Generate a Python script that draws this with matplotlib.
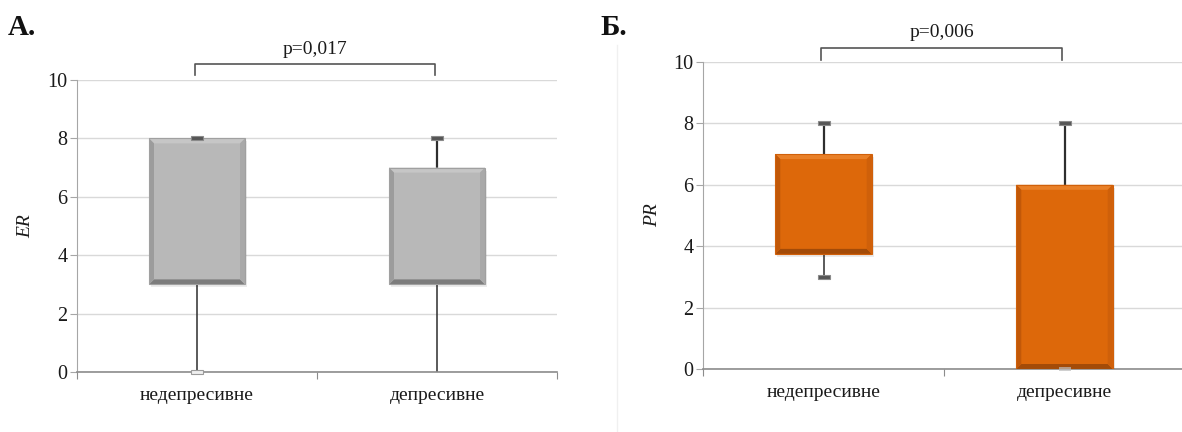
import matplotlib

matplotlib.use("Agg")
import matplotlib.pyplot as plt
from matplotlib.lines import Line2D
from matplotlib.patches import Polygon, Rectangle

# group labels and five-number summaries for each panel
categories = ["недепресивне", "депресивне"]

er_min = [0, 0]
er_q1 = [3, 3]
er_q3 = [8, 7]
er_max = [8, 8]

pr_min = [3, 0]
pr_q1 = [3.75, 0]
pr_q3 = [7, 6]
pr_max = [8, 8]

p_er = "p=0,017"
p_pr = "p=0,006"

FONT = ["Liberation Serif", "DejaVu Serif"]
GRAY = {"face": "#b8b8b8", "edge": "#a0a0a0", "top": "#c6c6c6",
        "left": "#9c9c9c", "right": "#a9a9a9", "bottom": "#7c7c7c"}
ORANGE = {"face": "#dd680a", "edge": "#d0600a", "top": "#e98028",
          "left": "#c25808", "right": "#cf600a", "bottom": "#a34b08"}

plt.rcParams["font.family"] = FONT


def px_to_data(ax):
    """Return data units per pixel along x and y."""
    bbox = ax.get_window_extent()
    x0, x1 = ax.get_xlim()
    y0, y1 = ax.get_ylim()
    return (x1 - x0) / bbox.width, (y1 - y0) / bbox.height


def bevel_box(ax, xc, lo, hi, width, colors, bevel_px=5):
    """Draw an Excel-style bevelled box between lo and hi."""
    ux, uy = px_to_data(ax)
    bx, by = bevel_px * ux, bevel_px * uy
    x0, x1 = xc - width / 2, xc + width / 2
    # soft drop shadow
    ax.add_patch(Rectangle((x0 + 2 * ux, lo - 3 * uy), width, hi - lo,
                           facecolor="#000000", alpha=0.08, lw=0, zorder=3))
    ax.add_patch(Rectangle((x0, lo), width, hi - lo, facecolor=colors["face"],
                           edgecolor="none", zorder=4))
    strips = [
        ([(x0, hi), (x1, hi), (x1 - bx, hi - by), (x0 + bx, hi - by)], colors["top"]),
        ([(x0, lo), (x1, lo), (x1 - bx, lo + by), (x0 + bx, lo + by)], colors["bottom"]),
        ([(x0, lo), (x0 + bx, lo + by), (x0 + bx, hi - by), (x0, hi)], colors["left"]),
        ([(x1, lo), (x1 - bx, lo + by), (x1 - bx, hi - by), (x1, hi)], colors["right"]),
    ]
    for pts, col in strips:
        ax.add_patch(Polygon(pts, closed=True, facecolor=col, edgecolor="none", zorder=5))
    ax.add_patch(Rectangle((x0, lo), width, hi - lo, facecolor="none",
                           edgecolor=colors["edge"], lw=0.8, zorder=6))


def cap(ax, xc, y, face="#555555", edge="#8a8a8a", alpha=1.0):
    ux, uy = px_to_data(ax)
    w, h = 12 * ux, 4 * uy
    ax.add_patch(Rectangle((xc - w / 2, y - h / 2), w, h, facecolor=face,
                           edgecolor=edge, lw=0.8, alpha=alpha, zorder=7, clip_on=False))


def style_axes(ax, ylabel):
    ax.set_xlim(0, 2)
    ax.set_ylim(0, 10)
    ax.set_yticks(range(0, 11, 2))
    ax.yaxis.grid(True, color="#d9d9d9", lw=1.0)
    ax.set_axisbelow(True)
    for side in ("top", "right"):
        ax.spines[side].set_visible(False)
    ax.spines["left"].set_color("#a6a6a6")
    ax.spines["bottom"].set_color("#8c8c8c")
    ax.spines["bottom"].set_linewidth(1.2)
    ax.set_xticks([0, 1, 2])
    ax.set_xticklabels([])
    ax.set_xticks([0.5, 1.5], minor=True)
    ax.set_xticklabels(categories, minor=True)
    ax.tick_params(axis="x", which="major", length=5, color="#8c8c8c")
    ax.tick_params(axis="x", which="minor", length=0, pad=11, labelsize=14,
                   labelcolor="#1a1a1a")
    ax.tick_params(axis="y", length=5, color="#a6a6a6", labelsize=14.5,
                   labelcolor="#1a1a1a", pad=2)
    ax.set_ylabel(ylabel, fontstyle="italic", fontsize=14, labelpad=9, color="#1a1a1a")


def draw_panel(ax, mins, q1s, q3s, maxs, colors, low_caps):
    width = 0.4
    for i, xc in enumerate([0.5, 1.5]):
        ax.plot([xc, xc], [mins[i], q1s[i]], color="#2e2e2e", lw=1.1, zorder=2)
        ax.plot([xc, xc], [q3s[i], maxs[i]], color="#2e2e2e", lw=1.6, zorder=2)
        bevel_box(ax, xc, q1s[i], q3s[i], width, colors)
        cap(ax, xc, maxs[i])
        if low_caps[i] is not None:
            cap(ax, xc, mins[i], **low_caps[i])


def bracket(ax, y_top, drop, label):
    ax.plot([0.49, 0.49, 1.49, 1.49], [y_top - drop, y_top, y_top, y_top - drop],
            color="#555555", lw=1.2, clip_on=False)
    ax.text(0.99, y_top + 0.22, label, ha="center", va="bottom", fontsize=14,
            color="#1a1a1a", clip_on=False)


fig = plt.figure(figsize=(11.82, 4.32), dpi=100)
ax_a = fig.add_axes([77 / 1182, 60 / 432, 480 / 1182, 292 / 432])
ax_b = fig.add_axes([703 / 1182, 63 / 432, 482 / 1182, 307 / 432])

style_axes(ax_a, "ER")
style_axes(ax_b, "PR")

draw_panel(ax_a, er_min, er_q1, er_q3, er_max, GRAY,
           [{"face": "#efefef", "edge": "#9a9a9a"}, None])
draw_panel(ax_b, pr_min, pr_q1, pr_q3, pr_max, ORANGE,
           [{}, {"face": "#bdbdbd", "edge": "none", "alpha": 0.7}])

bracket(ax_a, 10.55, 0.38, p_er)
bracket(ax_b, 10.45, 0.4, p_pr)

fig.text(8 / 1182, 1 - 35 / 432, "А.", fontsize=21, fontweight="bold", color="#111111")
fig.text(600 / 1182, 1 - 35 / 432, "Б.", fontsize=21, fontweight="bold", color="#111111")

# faint border of the second chart area
fig.add_artist(Line2D([617 / 1182, 617 / 1182], [0.0, 1 - 45 / 432],
                      color="#f0f0f0", lw=1.0))

fig.savefig("out.png", dpi=100)
